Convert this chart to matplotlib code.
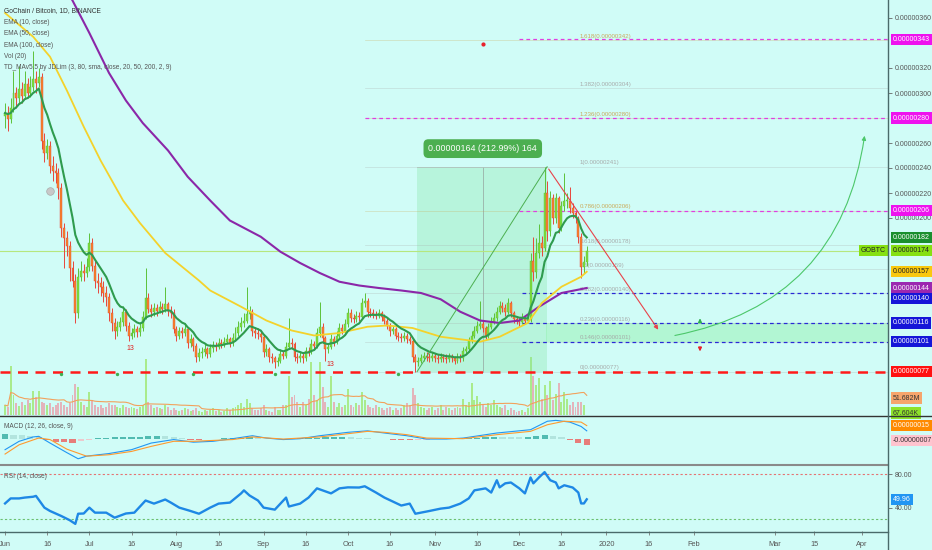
import numpy as np
import pandas as pd
import matplotlib
matplotlib.use("Agg")
import matplotlib.pyplot as plt
import matplotlib.transforms as mtransforms
from matplotlib.lines import Line2D
from matplotlib.patches import FancyArrowPatch

plt.rcParams['font.family'] = ['Liberation Sans', 'DejaVu Sans']

BG = '#d0fcf7'
W, H = 932, 550
PLOT_R = 888  # pixel where the price scale begins

# daily GO/BTC candles from 2019-06-01 (day 0), prices in satoshi
close = [
    284, 279, 288, 300, 296, 303, 298, 307, 300, 305,
    311, 308, 313, 262, 252, 258, 242, 238, 236, 224,
    192, 184, 178, 160, 150, 124, 153, 158, 156, 161,
    180, 162, 150, 148, 145, 140, 137, 124, 116, 110,
    113, 117, 125, 114, 106, 108, 111, 109, 112, 121,
    136, 127, 125, 128, 126, 129, 127, 131, 126, 124,
    111, 106, 110, 108, 111, 100, 103, 98, 89, 92,
    93, 95, 91, 96, 98, 97, 100, 99, 101, 103,
    100, 104, 108, 113, 116, 118, 123, 125, 110, 108,
    107, 105, 93, 95, 89, 88, 85, 86, 91, 90,
    97, 100, 99, 89, 88, 90, 88, 94, 93, 99,
    98, 108, 113, 104, 95, 97, 103, 101, 106, 112,
    110, 115, 124, 120, 119, 122, 121, 132, 134, 125,
    124, 123, 122, 124, 121, 118, 114, 110, 111, 106,
    105, 104, 106, 103, 102, 89, 85, 86, 88, 90,
    89, 88, 90, 88, 87, 89, 88, 87, 89, 88,
    86, 89, 88, 94, 95, 102, 106, 110, 114, 115,
    112, 106, 113, 117, 120, 125, 130, 128, 125, 132,
    124, 119, 118, 117, 120, 118, 119, 166, 157, 172,
    180, 176, 220, 190, 216, 200, 216, 192, 210, 214,
    214, 208, 204, 200, 185, 161, 165, 174,
]
high = [
    292, 290, 296, 318, 305, 322, 309, 318, 312, 314,
    334, 318, 320, 316, 268, 263, 262, 250, 244, 240,
    228, 196, 190, 182, 166, 155, 160, 166, 163, 168,
    188, 184, 166, 156, 153, 150, 146, 140, 128, 120,
    118, 121, 130, 127, 117, 112, 115, 114, 116, 126,
    160, 140, 131, 132, 131, 134, 132, 145, 133, 130,
    127, 114, 113, 113, 116, 113, 107, 105, 100, 96,
    97, 99, 97, 99, 102, 101, 104, 103, 105, 107,
    105, 108, 113, 118, 121, 124, 145, 130, 127, 113,
    112, 110, 107, 99, 97, 92, 90, 89, 95, 94,
    101, 120, 104, 101, 92, 93, 92, 97, 97, 103,
    102, 112, 133, 116, 106, 100, 107, 106, 110, 116,
    115, 119, 128, 127, 123, 126, 125, 136, 140, 136,
    128, 127, 126, 127, 126, 123, 120, 116, 114, 113,
    109, 108, 109, 108, 106, 104, 91, 89, 91, 93,
    93, 92, 93, 92, 91, 92, 91, 91, 92, 91,
    90, 92, 91, 97, 98, 105, 110, 114, 118, 134,
    118, 114, 116, 121, 124, 129, 134, 133, 131, 136,
    134, 126, 122, 121, 124, 122, 123, 172, 185, 184,
    195, 186, 241, 230, 222, 219, 220, 218, 214, 236,
    220, 225, 212, 206, 202, 188, 170, 178,
]
low = [
    272, 270, 276, 285, 288, 292, 292, 295, 296, 297,
    302, 300, 305, 255, 245, 247, 236, 230, 228, 215,
    185, 160, 170, 150, 145, 116, 120, 150, 150, 153,
    158, 158, 144, 140, 138, 133, 130, 118, 110, 103,
    106, 110, 114, 110, 102, 103, 105, 105, 106, 110,
    119, 124, 121, 122, 122, 124, 123, 125, 122, 120,
    108, 102, 103, 104, 106, 96, 97, 94, 85, 86,
    88, 90, 88, 89, 93, 94, 95, 96, 97, 99,
    97, 98, 102, 106, 110, 113, 116, 119, 106, 104,
    103, 101, 89, 90, 85, 84, 80, 82, 84, 87,
    88, 95, 96, 86, 84, 85, 84, 86, 90, 91,
    95, 96, 105, 100, 86, 92, 95, 98, 99, 104,
    107, 108, 113, 117, 116, 117, 118, 119, 129, 121,
    121, 120, 119, 120, 118, 115, 111, 106, 107, 103,
    102, 101, 102, 100, 99, 85, 77, 82, 84, 86,
    86, 85, 86, 85, 84, 85, 85, 84, 85, 85,
    83, 84, 85, 86, 91, 93, 100, 104, 108, 111,
    109, 103, 104, 111, 115, 118, 123, 125, 122, 123,
    121, 116, 115, 114, 115, 115, 116, 117, 150, 152,
    168, 170, 174, 182, 186, 195, 196, 188, 190, 206,
    208, 204, 200, 196, 180, 152, 156, 162,
]
first_open = 282
# volume in millions
volume = [
    30, 25, 150, 60, 35, 28, 40, 30, 45, 35,
    73, 55, 72, 40, 35, 30, 35, 25, 30, 35,
    40, 30, 25, 35, 60, 94, 85, 40, 30, 25,
    70, 45, 30, 25, 30, 20, 25, 35, 30, 30,
    25, 20, 30, 25, 20, 25, 20, 18, 25, 30,
    170, 40, 30, 22, 25, 20, 18, 30, 25, 15,
    20, 15, 12, 15, 20, 18, 12, 15, 20, 12,
    10, 15, 12, 15, 20, 12, 15, 10, 12, 20,
    15, 20, 25, 30, 35, 25, 50, 35, 20, 15,
    15, 20, 30, 15, 12, 10, 25, 15, 15, 30,
    30, 119, 55, 60, 40, 25, 40, 30, 50, 160,
    60, 45, 160, 85, 40, 25, 119, 40, 25, 35,
    25, 30, 80, 30, 25, 35, 30, 70, 45, 30,
    25, 20, 30, 25, 20, 15, 20, 25, 15, 20,
    15, 20, 30, 35, 30, 82, 60, 35, 25, 20,
    15, 20, 25, 15, 20, 30, 15, 25, 20, 15,
    20, 25, 20, 49, 30, 40, 97, 45, 58, 40,
    30, 25, 35, 30, 45, 30, 25, 20, 30, 15,
    20, 15, 10, 12, 15, 10, 20, 175, 119, 90,
    112, 50, 91, 60, 103, 45, 65, 97, 40, 70,
    49, 30, 40, 25, 40, 40, 30, 0.07,
]

# EMA 50 / EMA 100 (day, price)
ema50_days = [0, 10, 16, 22, 28, 34, 42, 48, 57, 69, 73, 84, 93, 102, 110, 119,
              129, 136, 145, 155, 169, 176, 186, 191, 198, 205, 207]
ema50_vals = [364, 345, 329, 302, 273, 246, 214, 196, 172, 150, 142, 129, 118, 110, 106, 108,
              113, 114, 112, 105, 101, 105, 116, 132, 145, 153, 157]
ema100_days = [0, 12, 24, 30, 37, 43, 49, 58, 65, 73, 80, 91, 98, 105, 112, 119, 126,
               133, 141, 148, 155, 162, 169, 176, 183, 190, 198, 207]
ema100_vals = [465, 420, 374, 348, 316, 294, 276, 254, 233, 214, 198, 185, 173, 164, 156, 149, 146,
               144, 142, 140, 135, 125, 118, 116, 118, 129, 140, 144]

# MACD (satoshi)
macd_days = [0, 5, 10, 12, 16, 22, 26, 29, 37, 45, 52, 60, 67, 74, 81, 88, 93, 99, 105,
             112, 122, 129, 135, 143, 150, 157, 163, 175, 181, 187, 193, 196, 201, 205, 207]
macd_vals = [-12.6, -3, 2, 2.7, -5, -16, -23, -20, -17, -12.6, -5, -1, -4, -3, 0, 3.4, 0.7, -1, 0,
             3.4, 7.3, 9, 6.5, 3.4, -0.4, -0.4, 0.7, 6.5, 8.4, 10.3, 20, 21, 19, 14, 9]
signal_days = [0, 5, 12, 16, 22, 29, 37, 45, 52, 60, 67, 81, 88, 99, 112, 122, 129, 135,
               143, 150, 163, 175, 187, 193, 199, 205, 207]
signal_vals = [-17.6, -7, 0.8, -1, -12, -20, -18.4, -14.6, -8.8, -3, -3, -1, 2, -0.4, 2, 5.7, 8.4, 7.3,
               4.6, 0.7, 0, 4.6, 8.4, 16, 20, 19, 15]
hist_vals = [5, 4.5, 4, 3.5, 2, -2, -4, -4, -4.5, -3,
             -1, 0.5, 1.2, 1.5, 1.8, 2, 2.5, 3.5, 3.5, 3,
             2, 0.5, -1, -1, -0.5, 0, 0.5, 1, 1.2, 1.4,
             1, 0.2, -0.3, -0.6, -0.3, 0.3, 0.8, 1.3, 1.5, 1.6,
             1.6, 1.4, 1, 0.6, -0.2, -0.8, -1, -1.2, -1.3, -1.2,
             -1, -0.5, -0.2, 0.3, 0.6, 0.9, 1.3, 1.6, 1.9, 1.8,
             1.5, 1.4, 1.8, 3, 4, 3, 1.5, -1, -5, -7]

# RSI (14)
rsi_days = [0, 2, 5, 7, 10, 11, 14, 16, 20, 23, 25, 26, 28, 30, 32, 36, 39, 43, 46, 50,
            53, 57, 59, 62, 66, 69, 73, 76, 80, 84, 85, 87, 90, 92, 96, 100, 101, 105, 108, 111,
            116, 119, 122, 126, 128, 132, 135, 141, 144, 146, 151, 155, 158, 162, 165, 167, 171, 173,
            175, 176, 178, 180, 183, 185, 187, 188, 190, 192, 194, 196, 197, 199, 202, 204, 205, 206, 207]
rsi_vals = [45, 51, 51, 52, 53, 54, 40, 36, 30, 25, 20.6, 32.7, 33, 40, 34, 34, 28, 33, 34, 48.5,
            44.8, 49.7, 46, 40, 36, 32.7, 40, 44.8, 46, 57, 60.6, 54.5, 48.5, 40, 37.6, 52, 41.3, 44.8, 52, 63,
            57, 63, 64.2, 64, 65.5, 58, 52, 42.5, 44.8, 32.7, 36, 38.8, 40, 44.8, 51, 60.6, 63, 58,
            72.7, 64.2, 69, 70, 63, 57, 76, 69, 76, 82.4, 72.7, 70, 63, 66.7, 64, 58, 45, 45, 49.96]

tick_days = [0, 15, 30, 45, 61, 76, 92, 107, 122, 137, 153, 168, 183, 198, 214, 229, 245, 274, 288, 305]
tick_labels = ['Jun', '16', 'Jul', '16', 'Aug', '16', 'Sep', '16', 'Oct', '16', 'Nov', '16',
               'Dec', '16', '2020', '16', 'Feb', 'Mar', '15', 'Apr']

fib_low, fib_high = 77, 241
fib_ratios = [0, 0.146, 0.236, 0.382, 0.5, 0.618, 0.786, 1, 1.236, 1.382, 1.618]

XLIM = (-1.8, 314.2)

opens = [first_open] + close[:-1]
days = np.arange(len(close))
ema10 = pd.Series(close).ewm(span=10, adjust=False).mean()
vol_ma = pd.Series(volume).rolling(20, min_periods=1).mean()
up = np.array(close) >= np.array(opens)

fig = plt.figure(figsize=(W / 100, H / 100), dpi=100, facecolor=BG)


def px_axes(top, bottom):
    a = fig.add_axes([0, 1 - bottom / H, PLOT_R / W, (bottom - top) / H])
    a.set_facecolor('none')
    for s in a.spines.values():
        s.set_visible(False)
    a.set_xlim(*XLIM)
    return a


axv = px_axes(0, 415)
ax = px_axes(0, 415)
axm = px_axes(416, 464)
axr = px_axes(466, 531)


def badge(a, val, txt, fc, tc, dy=0, fs=5):
    tr = mtransforms.blended_transform_factory(a.transAxes, a.transData)
    a.annotate(txt, xy=(1.0, val), xycoords=tr, xytext=(3.5, dy), textcoords='offset points',
               ha='left', va='center', fontsize=fs, color=tc, annotation_clip=False, zorder=20,
               bbox=dict(boxstyle='square,pad=0.3', fc=fc, ec='none'))


def sat(v):
    return f"{v * 1e-8:.8f}"


# ---- volume (overlay at bottom of price pane)
axv.set_ylim(0, 1262)
axv.bar(days, volume, width=0.7, color=np.where(up, '#a9eb8c', '#e3b4bb'), zorder=1)
axv.plot(days, vol_ma, color='#f2a15c', lw=0.8, zorder=2)
axv.set_yticks([])
axv.set_xticks([])
badge(axv, 51.682, '51.682M', '#f6a56c', '#333333')
badge(axv, 6, '67.604K', '#8ee22a', '#333333')

# ---- price pane
ax.set_ylim(42.4, 374.4)
ax.set_xticks([])

# measurement box and green band
ax.fill_between([146.6, 192.9], fib_low, fib_high, color='#7fe3a0', alpha=0.3, lw=0, zorder=0)
ax.plot([170, 170], [fib_low, fib_high], color='#9ab0a8', lw=0.6, zorder=1)
ax.plot([146.6, 192.9], [fib_high, fib_high], color='#b5cfc5', lw=0.6, zorder=1)
ax.fill_between([192.5, XLIM[1]], 101, 116, color='#8ef0a8', alpha=0.45, lw=0, zorder=0)

# fib levels
for r in fib_ratios:
    lvl = fib_low + r * (fib_high - fib_low)
    col = '#c9a24a' if r in (1.618, 1.236, 0.786) else '#a3a3a3'
    ax.plot([128, XLIM[1]], [lvl, lvl], color=col, lw=0.5, alpha=0.35, zorder=1)
    ax.text(204.6, lvl + 1.2, f"{r:g}({sat(round(lvl))})", fontsize=4.4, color=col,
            ha='left', va='bottom', zorder=2, alpha=0.9)

# level lines
ax.plot([183, XLIM[1]], [343, 343], color='#e03fe0', lw=0.9, dashes=(3, 2.5), zorder=2)
ax.plot([128, XLIM[1]], [280, 280], color='#e03fe0', lw=0.9, dashes=(3, 2.5), zorder=2)
ax.plot([183, XLIM[1]], [206, 206], color='#e03fe0', lw=0.9, dashes=(3, 2.5), zorder=2)
for lvl in (140, 116, 101):
    ax.plot([184, XLIM[1]], [lvl, lvl], color='#2a2ad6', lw=0.9, dashes=(3, 2.5), zorder=2)
ax.axhline(77, color='#ff1a1a', lw=1.8, dashes=(4, 3), zorder=2)
ax.axhline(close[-1], color='#b6e77e', lw=0.8, zorder=2)

# candles
wick_col = np.where(up, '#5cc23a', '#e8453c')
body_col = np.where(up, '#7fdc3c', '#f5862a')
ax.vlines(days, low, high, colors=wick_col, lw=0.7, zorder=4)
bottoms = np.minimum(opens, close)
heights = np.maximum(np.abs(np.array(close) - np.array(opens)), 0.6)
ax.bar(days, heights, bottom=bottoms, width=0.7, color=body_col, edgecolor=wick_col,
       linewidth=0.3, zorder=5)

# moving averages
ax.plot(ema100_days, ema100_vals, color='#8b27a8', lw=1.5, zorder=6)
ax.plot(ema50_days, ema50_vals, color='#f4d22b', lw=1.3, zorder=6)
ax.plot(days, ema10, color='#2f9b4e', lw=1.5, zorder=7)

# drawings
ax.plot([146.6, 192.9], [fib_low, fib_high], color='#4caf50', lw=0.7, zorder=8)
ax.annotate('', xy=(233, 108.8), xytext=(192.9, 241),
            arrowprops=dict(arrowstyle='-|>', color='#e8434a', lw=0.8, mutation_scale=6), zorder=8)
ax.add_patch(FancyArrowPatch((237.4, 105.6), (306, 268), connectionstyle='arc3,rad=0.36',
                             arrowstyle='-|>', mutation_scale=6, color='#4cc76a', lw=0.8, zorder=8))
ax.annotate('', xy=(247.3, 122), xytext=(247.3, 114),
            arrowprops=dict(arrowstyle='-|>', color='#2fb04f', lw=1.0, mutation_scale=5))
ax.annotate('', xy=(247.3, 91), xytext=(247.3, 99),
            arrowprops=dict(arrowstyle='-|>', color='#e8202a', lw=1.0, mutation_scale=5))
ax.text(170, 255.5, '0.00000164 (212.99%) 164', ha='center', va='center', fontsize=6.4,
        color='white', zorder=9, bbox=dict(boxstyle='round,pad=0.55', fc='#4caf50', ec='none'))
ax.scatter([170], [339.5], s=4, color='#e8202a', zorder=8)

# TD markers
ax.text(44.5, 96, '13', fontsize=5, color='#e02020', ha='center', va='center', zorder=8)
ax.text(115.7, 82.4, '13', fontsize=5, color='#e02020', ha='center', va='center', zorder=8)
ax.scatter([20, 40, 67, 96, 140], [75.5] * 5, s=2, color='#3cb050', zorder=8)
ax.scatter([16], [222], s=30, color='#c8c8c8', edgecolor='#aaaaaa', lw=0.5, zorder=8)

# price scale
ax.yaxis.tick_right()
ax.set_yticks([200, 220, 240, 260, 300, 320, 360])
ax.set_yticklabels([sat(v) for v in [200, 220, 240, 260, 300, 320, 360]])
ax.tick_params(axis='y', length=3, width=0.6, color='#666666', labelsize=5, labelcolor='#555555', pad=2)
badge(ax, 343, sat(343), '#ee12ee', 'white')
badge(ax, 280, sat(280), '#ee12ee', 'white')
badge(ax, 206, sat(206), '#ee12ee', 'white')
badge(ax, ema10.iloc[-1], sat(182), '#1a8f2e', 'white')
badge(ax, close[-1], sat(close[-1]), '#86e012', '#222222')
badge(ax, ema50_vals[-1], sat(ema50_vals[-1]), '#f9c80e', '#222222')
badge(ax, ema100_vals[-1], sat(ema100_vals[-1]), '#9b27b0', 'white')
badge(ax, 140, sat(140), '#1515d8', 'white', dy=-4)
badge(ax, 116, sat(116), '#1515d8', 'white')
badge(ax, 101, sat(101), '#1515d8', 'white')
badge(ax, 77, sat(77), '#ff1010', 'white')
ax.text(1.0 - 2 / PLOT_R, close[-1], 'GOBTC', transform=mtransforms.blended_transform_factory(ax.transAxes, ax.transData),
        ha='right', va='center', fontsize=5, color='#222222', zorder=20,
        bbox=dict(boxstyle='square,pad=0.3', fc='#86e012', ec='none'))

legend = ['EMA (10, close)', 'EMA (50, close)', 'EMA (100, close)', 'Vol (20)',
          'TD_MAv5.5 by JDLim (3, 80, sma, close, 20, 50, 200, 2, 9)']
fig.text(4 / W, 1 - 11 / H, 'GoChain / Bitcoin, 1D, BINANCE', fontsize=4.8, color='#333333', va='center')
for i, s in enumerate(legend):
    fig.text(4 / W, 1 - (22.3 + 11.4 * i) / H, s, fontsize=4.7, color='#555555', va='center')

# ---- MACD pane
axm.set_ylim(-29, 26)
hv = np.array(hist_vals)
prev = np.r_[hv[0], hv[:-1]]
hcol = np.where(hv >= 0, np.where(hv >= prev, '#26a69a', '#a8dcd6'),
                np.where(hv <= prev, '#ef5350', '#f7b8c0'))
axm.bar(np.arange(0, 208, 3), hv, width=2.2, color=hcol, alpha=0.75, zorder=1)
axm.plot(macd_days, macd_vals, color='#2196f3', lw=0.8, zorder=2)
axm.plot(signal_days, signal_vals, color='#ff9a2e', lw=0.8, zorder=2)
axm.set_xticks([])
axm.set_yticks([])
badge(axm, 15, sat(15), '#ff8a00', 'white')
badge(axm, -7, '-' + sat(7), '#ffc4cf', '#333333', dy=3)
fig.text(4 / W, 1 - 427 / H, 'MACD (12, 26, close, 9)', fontsize=4.7, color='#555555', va='center')

# ---- RSI pane
axr.set_ylim(12.1, 89.7)
axr.axhline(80, color='#e57373', lw=0.8, dashes=(2, 2))
axr.axhline(26, color='#6cc070', lw=0.8, dashes=(2, 2))
axr.plot(rsi_days, rsi_vals, color='#1e88e5', lw=1.7, zorder=3)
axr.yaxis.tick_right()
axr.set_yticks([80, 40])
axr.set_yticklabels(['80.00', '40.00'])
axr.tick_params(axis='y', length=3, width=0.6, color='#666666', labelsize=5, labelcolor='#555555', pad=2)
badge(axr, rsi_vals[-1], f"{rsi_vals[-1]:.2f}", '#2196f3', 'white')
axr.set_xticks(tick_days)
axr.set_xticklabels(tick_labels)
axr.tick_params(axis='x', length=3, width=0.6, color='#777777', labelsize=5.3, labelcolor='#555555', pad=4)
fig.text(4 / W, 1 - 476 / H, 'RSI (14, close)', fontsize=4.7, color='#555555', va='center')

# pane separators and price-scale border
fig.add_artist(Line2D([0, 1], [1 - 415.5 / H] * 2, color='#333333', lw=1))
fig.add_artist(Line2D([0, PLOT_R / W], [1 - 464.5 / H] * 2, color='#8a8a8a', lw=1.5))
fig.add_artist(Line2D([0, PLOT_R / W], [1 - 531.5 / H] * 2, color='#4a6a6a', lw=1))
fig.add_artist(Line2D([PLOT_R / W] * 2, [0, 1], color='#4a6a6a', lw=1))

fig.savefig('out.png', dpi=100, facecolor=BG)
